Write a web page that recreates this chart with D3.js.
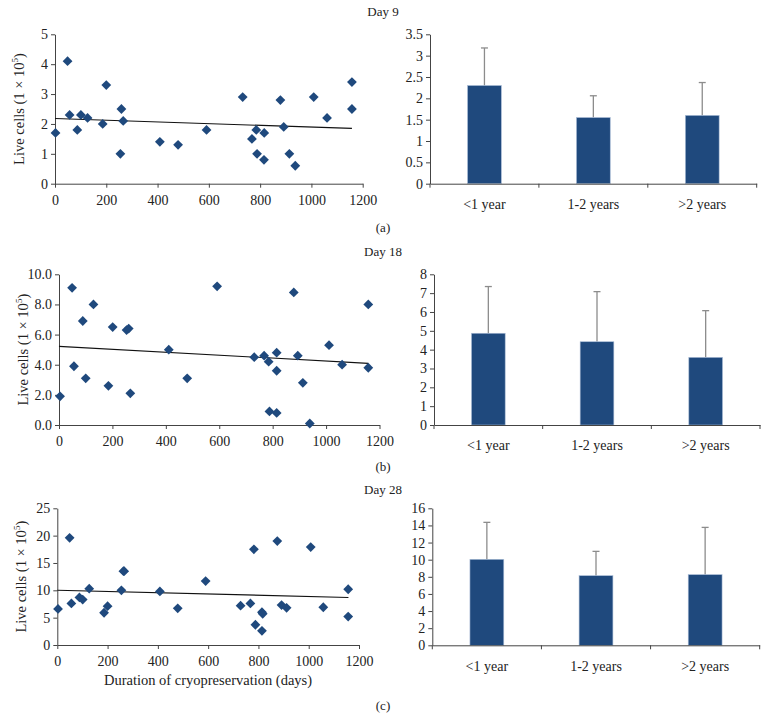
<!DOCTYPE html>
<html><head><meta charset="utf-8">
<script src="https://cdn.jsdelivr.net/npm/d3@7"></script>
<style>
body{margin:0;background:#fff;}
svg text{font-family:"Liberation Serif","Times New Roman",serif !important;fill:#222;}
</style></head>
<body><svg id="c" width="768" height="719"></svg>
<script>
// ---- Data ----
const daysA = [2,49,57,87,101,127,186,200,255,259,266,409,480,591,732,768,785,788,815,816,879,892,914,937,1009,1061,1158,1158];
const cellsA = [1.7,4.1,2.3,1.8,2.3,2.2,2.0,3.3,1.0,2.5,2.1,1.4,1.3,1.8,2.9,1.5,1.8,1.0,0.8,1.7,2.8,1.9,1.0,0.6,2.9,2.2,3.4,2.5];
const daysB = [4,49,56,89,100,129,185,201,253,261,267,411,480,592,731,768,785,788,815,815,815,879,894,913,939,1011,1060,1158,1158];
const cellsB = [1.9,9.1,3.9,6.9,3.1,8.0,2.6,6.5,6.3,6.4,2.1,5.0,3.1,9.2,4.5,4.6,4.2,0.9,4.8,3.6,0.8,8.8,4.6,2.8,0.1,5.3,4.0,8.0,3.8];
const daysC = [3,49,56,88,101,127,186,200,255,263,266,408,479,590,729,768,782,788,814,817,814,875,892,912,1008,1058,1157,1157];
const cellsC = [6.6,19.6,7.6,8.7,8.3,10.3,5.9,7.1,10.0,13.5,13.5,9.8,6.7,11.7,7.2,7.6,17.5,3.7,6.0,5.7,2.6,19.0,7.3,6.8,17.9,6.9,10.2,5.2];
// trend lines: [startDay, endDay], [startValue, endValue]
const trendDays = [0, 1158];
const trendA = [2.18, 1.85];
const trendB = [5.22, 4.09];
const trendC = [10.0, 8.7];

const groups = ["<1 year", "1-2 years", ">2 years"];
const meanA = [2.30, 1.55, 1.60];
const errA  = [0.88, 0.51, 0.77];
const meanB = [4.87, 4.42, 3.59];
const errB  = [2.48, 2.66, 2.48];
const meanC = [10.04, 8.13, 8.25];
const errC  = [4.32, 2.84, 5.52];

const xTicksDays = [0,200,400,600,800,1000,1200];
const yTicksA = [0,1,2,3,4,5];
const yTicksB = [0,2,4,6,8,10];
const yTicksC = [0,5,10,15,20,25];
const bTicksA = [0,0.5,1,1.5,2,2.5,3,3.5];
const bTicksB = [0,1,2,3,4,5,6,7,8];
const bTicksC = [0,2,4,6,8,10,12,14,16];

const titles = ["Day 9","Day 18","Day 28"];
const panelLabels = ["(a)","(b)","(c)"];

// ---- Drawing ----
const svg = d3.select("#c");
const BLUE = "#1f497d";
const AX = "#444";
const SERIF = "'Liberation Serif','Times New Roman',serif";

function styleAxis(g){
  g.attr("font-family",null);
  g.selectAll("path.domain").attr("stroke",AX).attr("stroke-width",1);
  g.selectAll(".tick line").attr("stroke",AX);
  g.selectAll(".tick text").style("font-size","14px").style("font-family",SERIF).attr("fill","#222");
}

function scatter(cfg){
  const x = d3.scaleLinear().domain([0,1200]).range([cfg.x0,cfg.x1]);
  const y = d3.scaleLinear().domain([0,cfg.ymax]).range([cfg.y0,cfg.y1]);
  const g = svg.append("g");
  const gx = g.append("g").attr("transform",`translate(0,${cfg.y0})`)
    .call(d3.axisBottom(x).tickValues(xTicksDays).tickSize(4).tickSizeOuter(0).tickFormat(d3.format("d")));
  gx.selectAll(".tick text").attr("y",8).attr("dy","0.95em");
  styleAxis(gx);
  const gy = g.append("g").attr("transform",`translate(${cfg.x0},0)`)
    .call(d3.axisLeft(y).tickValues(cfg.yticks).tickSize(4).tickSizeOuter(0).tickFormat(cfg.fmt));
  styleAxis(gy);
  // trend
  g.append("line")
    .attr("x1",x(trendDays[0])).attr("x2",x(trendDays[1]))
    .attr("y1",y(cfg.trend[0])).attr("y2",y(cfg.trend[1]))
    .attr("stroke","#111").attr("stroke-width",1.1);
  const sym = d3.symbol().type(d3.symbolSquare).size(48);
  g.selectAll("path.pt").data(cfg.days.map((d,i)=>[d,cfg.vals[i]])).join("path")
    .attr("class","pt")
    .attr("d",sym)
    .attr("transform",d=>`translate(${x(d[0])},${y(d[1])}) rotate(45)`)
    .attr("fill",BLUE);
  // y label
  const lx = cfg.x0 - 31, ly = (cfg.y0+cfg.y1)/2;
  const t = g.append("text").attr("transform",`translate(${lx},${ly}) rotate(-90)`)
    .attr("text-anchor","middle").style("font-size","14.5px");
  t.append("tspan").text("Live cells (1 × 10");
  t.append("tspan").style("font-size","9px").attr("dy",-6).text("5");
  t.append("tspan").attr("dy",6).text(")");
  return {x,y};
}

function bars(cfg){
  const x = d3.scaleBand().domain(groups).range([cfg.x0,cfg.x1]).paddingInner(0).paddingOuter(0);
  const y = d3.scaleLinear().domain([0,cfg.ymax]).range([cfg.y0,cfg.y1]);
  const g = svg.append("g");
  const bw = x.bandwidth()*0.31;
  g.selectAll("line.err").data(groups).join("line")
    .attr("x1",d=>x(d)+x.bandwidth()/2).attr("x2",d=>x(d)+x.bandwidth()/2)
    .attr("y1",(d,i)=>y(cfg.mean[i])).attr("y2",(d,i)=>y(cfg.mean[i]+cfg.err[i]))
    .attr("stroke","#8c8c8c").attr("stroke-width",1.3);
  g.selectAll("line.cap").data(groups).join("line")
    .attr("x1",d=>x(d)+x.bandwidth()/2-3.5).attr("x2",d=>x(d)+x.bandwidth()/2+3.5)
    .attr("y1",(d,i)=>y(cfg.mean[i]+cfg.err[i])).attr("y2",(d,i)=>y(cfg.mean[i]+cfg.err[i]))
    .attr("stroke","#8c8c8c").attr("stroke-width",1.3);
  g.selectAll("rect").data(groups).join("rect")
    .attr("x",d=>x(d)+x.bandwidth()/2-bw/2).attr("width",bw)
    .attr("y",(d,i)=>y(cfg.mean[i])).attr("height",(d,i)=>cfg.y0-y(cfg.mean[i]))
    .attr("fill",BLUE).attr("stroke","#a9bcd6").attr("stroke-width",0.6);
  const gx = g.append("g").attr("transform",`translate(0,${cfg.y0})`)
    .call(d3.axisBottom(x).tickSize(0).tickSizeOuter(0));
  gx.selectAll(".tick text").attr("y",12).attr("dy","0.95em");
  styleAxis(gx);
  gx.selectAll("line.bd").data([0,1,2,3]).join("line")
    .attr("x1",i=>cfg.x0+i*x.bandwidth()).attr("x2",i=>cfg.x0+i*x.bandwidth())
    .attr("y1",0).attr("y2",4).attr("stroke",AX);
  const gy = g.append("g").attr("transform",`translate(${cfg.x0},0)`)
    .call(d3.axisLeft(y).tickValues(cfg.yticks).tickSize(4).tickSizeOuter(0).tickFormat(d3.format("~g")));
  styleAxis(gy);
}

scatter({x0:55,x1:362.7,y0:183.7,y1:34.3,ymax:5,yticks:yTicksA,fmt:d3.format("d"),days:daysA,vals:cellsA,trend:trendA});
scatter({x0:59,x1:379.5,y0:425,y1:274.3,ymax:10,yticks:yTicksB,fmt:d3.format(".1f"),days:daysB,vals:cellsB,trend:trendB});
scatter({x0:57.3,x1:359,y0:645,y1:508.3,ymax:25,yticks:yTicksC,fmt:d3.format("d"),days:daysC,vals:cellsC,trend:trendC});

bars({x0:430,x1:756.7,y0:183.7,y1:34.3,ymax:3.5,yticks:bTicksA,mean:meanA,err:errA});
bars({x0:434,x1:760,y0:425,y1:274.3,ymax:8,yticks:bTicksB,mean:meanB,err:errB});
bars({x0:432.3,x1:759.7,y0:645.3,y1:508.3,ymax:16,yticks:bTicksC,mean:meanC,err:errC});

const titleY = [16,256,494];
const labelY = [232,471,710];
titles.forEach((t,i)=>svg.append("text").attr("x",383).attr("y",titleY[i]).attr("text-anchor","middle").style("font-size","13px").text(t));
panelLabels.forEach((t,i)=>svg.append("text").attr("x",383).attr("y",labelY[i]).attr("text-anchor","middle").style("font-size","13px").text(t));
svg.append("text").attr("x",208).attr("y",685).attr("text-anchor","middle").style("font-size","14.5px").text("Duration of cryopreservation (days)");
</script></body></html>
